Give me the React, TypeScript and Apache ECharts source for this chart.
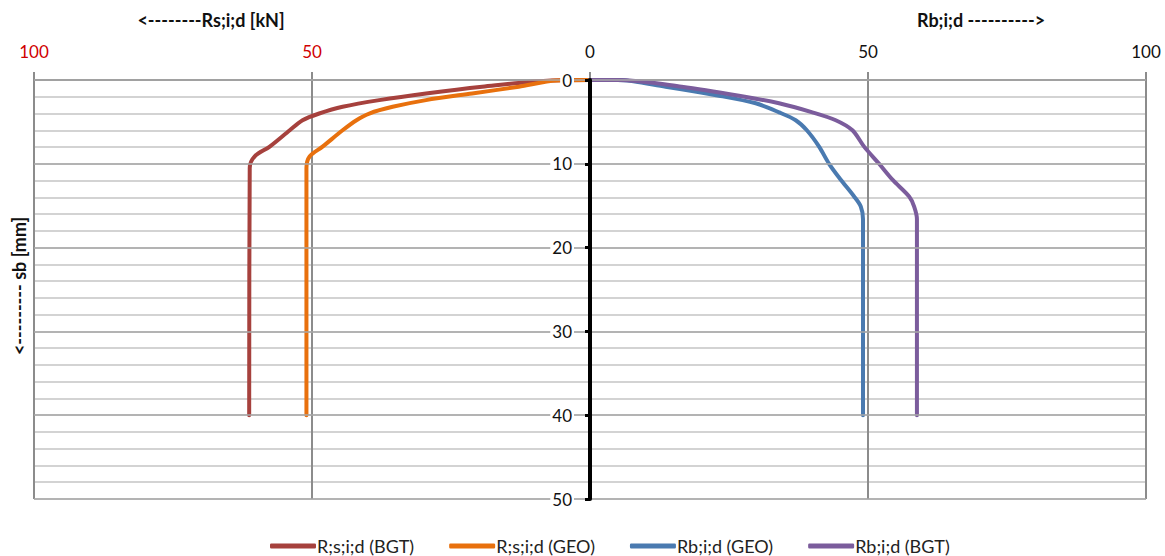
import React, { useEffect, useRef } from "react";
import * as echarts from "echarts";

// R;s;i;d (BGT) – shaft resistance, plotted to the left
const rsBgtLoad = [0, 7, 19.4, 29.5, 37.9, 44.5, 48.7, 51.7, 54, 57.6, 60.3, 61.2, 61.3];
const rsBgtDepth = [0, 0.05, 0.8, 1.6, 2.4, 3.2, 4.0, 4.8, 6, 7.95, 9.1, 10.5, 40];
// R;s;i;d (GEO)
const rsGeoLoad = [0, 6, 12.8, 21.2, 29.5, 35.5, 39.7, 42, 44.5, 48.1, 50.4, 51, 51];
const rsGeoDepth = [0, 0.05, 0.8, 1.6, 2.4, 3.2, 4.0, 4.8, 6, 7.95, 9.1, 10.5, 40];
// Rb;i;d (GEO) – base resistance, plotted to the right
const rbGeoLoad = [0, 5, 13.6, 23.2, 29.8, 34, 37, 39, 41.2, 43, 45.1, 47.5, 48.7, 49.1, 49.1];
const rbGeoDepth = [0, 0, 0.8, 1.87, 2.78, 3.86, 4.8, 6, 7.95, 10, 11.9, 13.9, 15.1, 16.6, 40];
// Rb;i;d (BGT)
const rbBgtLoad = [0, 5, 16.5, 26.8, 34, 40, 44.2, 47.2, 49.3, 52, 54.4, 57.4, 58.3, 58.8, 58.8];
const rbBgtDepth = [0, 0, 0.8, 1.87, 2.78, 3.86, 4.8, 6, 7.95, 10, 11.9, 13.9, 15.1, 16.6, 40];

const seriesNames = ["R;s;i;d (BGT)", "R;s;i;d (GEO)", "Rb;i;d (GEO)", "Rb;i;d (BGT)"];
const seriesColors = ["#A6413D", "#E8700D", "#4A7AB0", "#7B5C9C"];

const leftTitle = "<--------Rs;i;d [kN]";
const rightTitle = "Rb;i;d ---------->";
const yTitle = "<--------- sb [mm]";

const FONT = "Lato, 'Open Sans', sans-serif";

const GRID_LEFT = 34;
const GRID_RIGHT = 19;
const WIDTH = 1165;
const HEIGHT = 556;

function pairs(load: number[], depth: number[], sign: number) {
  return load.map((v, i) => [sign * v, depth[i]]);
}

export default function App() {
  const ref = useRef<HTMLDivElement>(null);
  useEffect(() => {
    if (!ref.current) return;
    const chart = echarts.init(ref.current, null, { renderer: "svg" });
    const datasets = [
      pairs(rsBgtLoad, rsBgtDepth, -1),
      pairs(rsGeoLoad, rsGeoDepth, -1),
      pairs(rbGeoLoad, rbGeoDepth, 1),
      pairs(rbBgtLoad, rbBgtDepth, 1),
    ];
    const halfWidth = (WIDTH - GRID_LEFT - GRID_RIGHT) / 2;
    const titleStyle = {
      fontFamily: FONT,
      fontWeight: "bold",
      fontSize: 18,
      fill: "#111",
      align: "center",
      verticalAlign: "middle",
    };
    chart.setOption({
      animation: false,
      backgroundColor: "#ffffff",
      textStyle: { fontFamily: FONT },
      grid: {
        left: GRID_LEFT,
        right: GRID_RIGHT,
        top: 80,
        bottom: 57,
        containLabel: false,
        outerBoundsMode: "none",
      },
      graphic: [
        { type: "text", x: 211, y: 20, style: { ...titleStyle, text: leftTitle } },
        { type: "text", x: 981, y: 20, style: { ...titleStyle, text: rightTitle } },
        {
          type: "text",
          x: 19,
          y: 286,
          rotation: Math.PI / 2,
          style: { ...titleStyle, text: yTitle },
        },
      ],
      legend: {
        top: 537,
        left: 270,
        padding: 0,
        icon: "roundRect",
        itemWidth: 46,
        itemHeight: 5,
        itemGap: 35,
        data: seriesNames,
        textStyle: { fontFamily: FONT, fontSize: 18, color: "#222", padding: [0, 0, 0, -4] },
      },
      xAxis: {
        type: "value",
        position: "top",
        min: -100,
        max: 100,
        interval: 50,
        axisLine: { show: true, onZero: false, lineStyle: { color: "#8c8c8c", width: 2 } },
        axisTick: { show: true, length: 8, lineStyle: { color: "#8c8c8c", width: 2 } },
        axisLabel: {
          margin: 20,
          fontSize: 17,
          fontFamily: FONT,
          formatter: (v: number) => String(Math.abs(v)),
          color: (v: number) => (v < 0 ? "#D00000" : "#111"),
        },
        splitLine: { show: true, lineStyle: { color: "#8c8c8c", width: 2 } },
      },
      yAxis: [
        {
          type: "value",
          inverse: true,
          min: 0,
          max: 50,
          interval: 2,
          axisLine: { show: false, onZero: false },
          axisTick: { show: false },
          axisLabel: { show: false },
          splitLine: { show: true, lineStyle: { color: "#c4c4c4", width: 1.5 } },
        },
        {
          type: "value",
          inverse: true,
          position: "left",
          offset: -halfWidth,
          min: 0,
          max: 50,
          interval: 10,
          z: 5,
          axisLine: { show: true, onZero: false, lineStyle: { color: "#000", width: 4 } },
          axisTick: { show: true, length: 5, lineStyle: { color: "#000", width: 3 } },
          axisLabel: {
            margin: 16,
            fontSize: 17,
            fontFamily: FONT,
            color: "#111",
            backgroundColor: "#fff",
            padding: [0, 2, 0, 2],
          },
          splitLine: { show: true, lineStyle: { color: "#a8a8a8", width: 1.5 } },
        },
      ],
      series: datasets.map((d, i) => ({
        name: seriesNames[i],
        type: "line",
        yAxisIndex: 1,
        data: d,
        smooth: 0.3,
        showSymbol: false,
        symbol: "none",
        lineStyle: { color: seriesColors[i], width: 4, cap: "round", join: "round" },
        itemStyle: { color: seriesColors[i] },
        z: 3,
      })),
    });
    return () => chart.dispose();
  }, []);
  return (
    <div
      ref={ref}
      style={{ position: "absolute", left: 0, top: 0, width: WIDTH, height: HEIGHT }}
    />
  );
}
